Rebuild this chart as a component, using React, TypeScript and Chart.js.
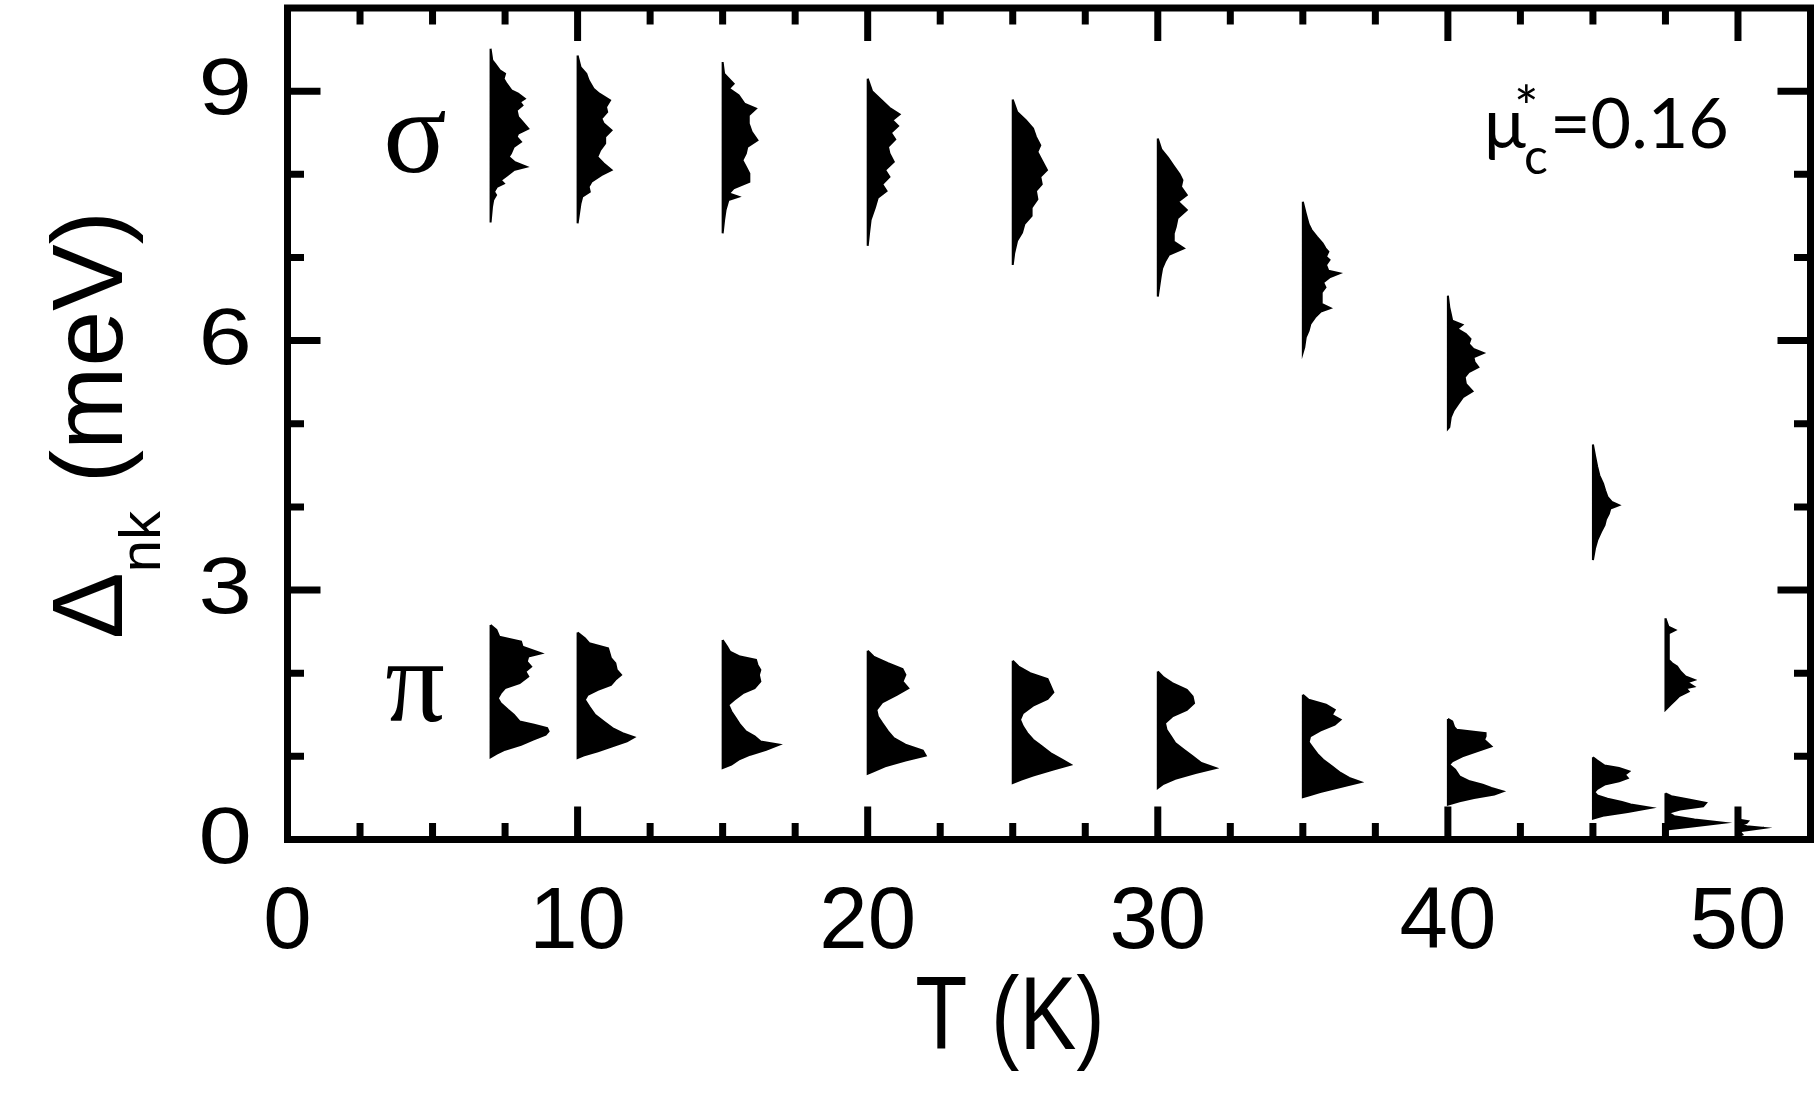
import React, { useEffect, useRef } from 'react';
import { Chart, registerables } from 'chart.js';

Chart.register(...registerables);

// ---- axis ranges & ticks ----
const xMin = 0;
const xMax = 52.5;
const yMin = 0;
const yMax = 10;
const xTickLabels = [0, 10, 20, 30, 40, 50];
const yTickLabels = [0, 3, 6, 9];
const xTickMarks = [2.5, 5, 7.5, 10, 12.5, 15, 17.5, 20, 22.5, 25, 27.5, 30, 32.5, 35, 37.5, 40, 42.5, 45, 47.5, 50];
const yTickMarks = [1, 2, 3, 4, 5, 6, 7, 8, 9];

// ---- gap distributions: [gap (meV), histogram width (K)] from top to bottom ----
const sigma07 = [[9.51,0],[9.37,0.06],[9.33,0.15],[9.25,0.32],[9.21,0.5],[9.15,0.45],[9.09,0.55],[9.01,0.72],[8.97,0.95],[8.91,1.18],[8.87,1.01],[8.83,1.10],[8.77,0.9],[8.69,0.95],[8.65,1.05],[8.55,1.30],[8.49,0.95],[8.45,0.9],[8.39,1.05],[8.33,0.8],[8.25,0.7],[8.21,0.62],[8.15,0.82],[8.09,1.24],[8.05,0.8],[7.99,0.58],[7.93,0.35],[7.89,0.46],[7.85,0.22],[7.79,0.12],[7.75,0.19],[7.69,0.09],[7.61,0.05],[7.42,0]];
const sigma10 = [[9.43,0],[9.29,0.1],[9.21,0.3],[9.13,0.38],[9.03,0.55],[8.97,0.75],[8.89,1.12],[8.81,0.98],[8.75,1.02],[8.67,0.82],[8.61,0.9],[8.53,1.17],[8.45,0.95],[8.37,0.95],[8.29,0.78],[8.21,0.68],[8.13,0.9],[8.05,1.17],[7.99,0.82],[7.91,0.48],[7.85,0.38],[7.79,0.42],[7.73,0.16],[7.65,0.1],[7.53,0.05],[7.41,0]];
const sigma15 = [[9.35,0],[9.21,0.05],[9.09,0.38],[9.03,0.22],[8.95,0.55],[8.85,0.75],[8.79,1.15],[8.71,0.9],[8.61,0.9],[8.51,1.0],[8.41,1.2],[8.33,0.85],[8.25,0.8],[8.17,0.68],[8.09,0.8],[8.01,0.92],[7.91,0.92],[7.83,0.38],[7.77,0.22],[7.73,0.55],[7.69,0.2],[7.57,0.1],[7.45,0.05],[7.29,0]];
const sigma20 = [[9.15,0],[9.0,0.15],[8.9,0.45],[8.8,0.75],[8.72,1.1],[8.65,0.85],[8.58,1.05],[8.5,0.8],[8.42,0.95],[8.33,0.7],[8.25,0.75],[8.15,0.9],[8.05,0.6],[7.97,0.75],[7.88,0.5],[7.8,0.65],[7.72,0.35],[7.6,0.25],[7.45,0.1],[7.3,0.05],[7.14,0]];
const sigma25 = [[8.90,0],[8.75,0.15],[8.65,0.45],[8.55,0.7],[8.45,0.8],[8.35,0.95],[8.27,0.85],[8.17,1.0],[8.05,1.18],[7.97,0.95],[7.88,1.0],[7.8,0.8],[7.7,0.85],[7.6,0.65],[7.5,0.65],[7.4,0.4],[7.3,0.32],[7.2,0.15],[7.05,0.05],[6.91,0]];
const sigma30 = [[8.43,0],[8.3,0.12],[8.2,0.35],[8.1,0.55],[8.0,0.75],[7.93,0.85],[7.85,0.8],[7.75,1.0],[7.67,0.7],[7.57,1.0],[7.47,0.68],[7.37,0.62],[7.29,0.55],[7.19,0.55],[7.11,0.9],[7.03,0.38],[6.95,0.25],[6.87,0.15],[6.77,0.1],[6.65,0.05],[6.53,0]];
const sigma35 = [[7.67,0],[7.53,0.1],[7.40,0.2],[7.33,0.3],[7.25,0.48],[7.17,0.68],[7.11,0.78],[7.07,0.88],[7.01,0.8],[6.97,0.92],[6.91,0.8],[6.84,0.88],[6.81,1.27],[6.76,0.92],[6.70,0.7],[6.64,0.78],[6.58,0.65],[6.50,0.65],[6.44,0.65],[6.39,0.95],[6.35,0.62],[6.28,0.42],[6.20,0.26],[6.12,0.2],[6.04,0.1],[5.92,0.05],[5.86,0]];
const sigma40 = [[6.54,0],[6.40,0.05],[6.32,0.1],[6.24,0.15],[6.19,0.5],[6.14,0.32],[6.08,0.62],[6.02,0.78],[5.96,0.72],[5.90,0.88],[5.85,1.23],[5.80,0.88],[5.74,0.92],[5.68,1.05],[5.62,0.72],[5.56,0.58],[5.48,0.62],[5.39,0.85],[5.32,0.52],[5.24,0.36],[5.16,0.2],[5.08,0.1],[4.96,0.05],[4.94,0]];
const sigma45 = [[4.75,0],[4.6,0.08],[4.48,0.15],[4.38,0.22],[4.28,0.35],[4.2,0.42],[4.12,0.5],[4.06,0.65],[4.02,0.9],[3.98,0.6],[3.92,0.55],[3.85,0.45],[3.78,0.4],[3.7,0.28],[3.6,0.15],[3.5,0.07],[3.36,0]];
const sigma47 = [[2.66,0],[2.56,0.1],[2.52,0.34],[2.48,0.11],[2.32,0.11],[2.16,0.12],[2.12,0.23],[2.08,0.4],[2.02,0.52],[1.96,0.69],[1.92,1.0],[1.89,0.75],[1.84,0.98],[1.82,0.7],[1.78,0.8],[1.72,0.46],[1.68,0.35],[1.62,0.17],[1.56,0]];
const gap50 = [[0.24,0],[0.22,0.35],[0.2,0.3],[0.18,0.1],[0.16,0.3],[0.14,0.9],[0.12,0.5],[0.1,0.05],[0.06,0.15],[0.04,0]];

const pi07 = [[2.58,0],[2.52,0.2],[2.44,0.3],[2.38,1.05],[2.32,1.1],[2.24,1.75],[2.20,1.3],[2.14,1.25],[2.08,1.4],[2.02,1.2],[1.96,1.3],[1.88,1.0],[1.82,0.5],[1.76,0.35],[1.70,0.25],[1.64,0.35],[1.56,0.6],[1.50,0.8],[1.42,1.0],[1.38,1.5],[1.34,1.95],[1.30,2.0],[1.26,1.9],[1.20,1.45],[1.14,1.05],[1.08,0.5],[1.03,0.2],[0.99,0]];
const pi10 = [[2.49,0],[2.42,0.25],[2.36,0.4],[2.30,1.05],[2.24,1.1],[2.18,1.15],[2.12,1.3],[2.04,1.35],[1.98,1.5],[1.92,1.3],[1.86,1.15],[1.80,0.7],[1.74,0.35],[1.68,0.25],[1.60,0.4],[1.50,0.6],[1.42,0.9],[1.34,1.2],[1.28,1.55],[1.23,1.95],[1.18,1.7],[1.12,1.2],[1.06,0.7],[1.01,0.2],[0.98,0]];
const pi15 = [[2.40,0],[2.32,0.15],[2.26,0.25],[2.20,0.6],[2.16,1.15],[2.10,1.2],[2.04,1.3],[1.98,1.25],[1.90,1.3],[1.82,1.1],[1.76,0.7],[1.68,0.4],[1.62,0.2],[1.54,0.3],[1.46,0.45],[1.38,0.6],[1.30,0.8],[1.24,1.1],[1.18,1.3],[1.14,1.95],[1.08,1.5],[1.02,0.95],[0.96,0.55],[0.90,0.3],[0.86,0]];
const pi20 = [[2.27,0],[2.2,0.2],[2.12,0.7],[2.05,1.2],[1.98,1.3],[1.9,1.2],[1.82,1.4],[1.74,1.0],[1.65,0.5],[1.56,0.3],[1.48,0.35],[1.40,0.5],[1.30,0.7],[1.22,0.9],[1.14,1.3],[1.07,1.9],[1.01,2.0],[0.95,1.3],[0.88,0.6],[0.82,0.2],[0.79,0]];
const pi25 = [[2.15,0],[2.08,0.2],[2.0,0.6],[1.93,1.2],[1.85,1.3],[1.77,1.4],[1.69,1.2],[1.61,0.7],[1.52,0.35],[1.44,0.25],[1.36,0.35],[1.28,0.5],[1.2,0.7],[1.12,1.0],[1.04,1.3],[0.96,1.7],[0.9,2.0],[0.84,1.4],[0.77,0.7],[0.72,0.3],[0.68,0]];
const pi30 = [[2.02,0],[1.95,0.2],[1.88,0.5],[1.8,1.0],[1.72,1.2],[1.64,1.25],[1.56,1.0],[1.48,0.5],[1.4,0.25],[1.32,0.3],[1.24,0.45],[1.16,0.6],[1.08,0.9],[1.0,1.2],[0.92,1.5],[0.86,2.0],[0.8,1.3],[0.73,0.6],[0.67,0.2],[0.62,0]];
const pi35 = [[1.74,0],[1.68,0.2],[1.62,0.8],[1.56,1.1],[1.5,1.0],[1.44,1.3],[1.38,1.1],[1.31,0.6],[1.24,0.25],[1.17,0.2],[1.10,0.35],[1.03,0.5],[0.96,0.7],[0.88,1.0],[0.80,1.3],[0.74,1.6],[0.69,2.0],[0.63,1.3],[0.57,0.6],[0.53,0.2],[0.51,0]];
const pi40 = [[1.45,0],[1.42,0.15],[1.35,0.22],[1.32,0.3],[1.28,1.3],[1.24,1.3],[1.20,1.25],[1.12,1.5],[1.06,1.0],[1.00,0.5],[0.94,0.15],[0.90,0.05],[0.84,0.25],[0.76,0.4],[0.70,0.75],[0.66,1.2],[0.62,1.5],[0.58,1.9],[0.54,1.6],[0.50,0.9],[0.46,0.4],[0.42,0]];
const pi45 = [[0.99,0],[0.95,0.15],[0.89,0.4],[0.86,0.9],[0.82,1.25],[0.78,1.1],[0.74,1.2],[0.70,0.9],[0.66,0.4],[0.61,0.15],[0.57,0.05],[0.53,0.15],[0.49,0.5],[0.45,1.0],[0.42,1.3],[0.38,2.0],[0.33,1.2],[0.29,0.4],[0.25,0]];
const pi47 = [[0.555,0],[0.52,0.2],[0.48,0.8],[0.44,1.4],[0.40,1.3],[0.36,0.5],[0.32,0.1],[0.28,0.3],[0.24,1.0],[0.20,2.0],[0.16,1.0],[0.12,0]];

const histTemps = [7, 10, 15, 20, 25, 30, 35, 40, 45, 47.5, 50, 7, 10, 15, 20, 25, 30, 35, 40, 45, 47.5];
const histProfiles = [sigma07, sigma10, sigma15, sigma20, sigma25, sigma30, sigma35, sigma40, sigma45, sigma47, gap50,
  pi07, pi10, pi15, pi20, pi25, pi30, pi35, pi40, pi45, pi47];

const bandLabels = ['σ', 'π'];
const bandLabelPos = [[4.4, 8.4], [4.4, 1.8]];

const FRAME_W = 7;
const SANS = '"Liberation Sans", Arial, sans-serif';
const SERIF = '"Liberation Serif", "Times New Roman", serif';
const MUFONT = 'Lato, "Open Sans", sans-serif';

function drawStretched(ctx: CanvasRenderingContext2D, text: string, x: number, y: number, font: string, align: CanvasTextAlign, baseline: CanvasTextBaseline, sx = 1, sy = 1) {
  ctx.save();
  ctx.translate(x, y);
  ctx.scale(sx, sy);
  ctx.font = font;
  ctx.textAlign = align;
  ctx.textBaseline = baseline;
  ctx.fillText(text, 0, 0);
  ctx.restore();
}

const overlay = {
  id: 'overlay',
  afterDraw(chart: any) {
    const { ctx, chartArea: a, scales } = chart;
    const xs = scales.x;
    const ys = scales.y;
    ctx.save();
    ctx.fillStyle = '#000';
    ctx.strokeStyle = '#000';
    // frame
    ctx.lineWidth = FRAME_W;
    ctx.strokeRect(a.left, a.top, a.right - a.left, a.bottom - a.top);
    // ticks
    ctx.lineCap = 'butt';
    ctx.lineWidth = 7;
    for (const v of xTickMarks) {
      const px = xs.getPixelForValue(v);
      const major = v % 10 === 0;
      const L = major ? 33 : 16.5;
      ctx.beginPath();
      ctx.moveTo(px, a.bottom); ctx.lineTo(px, a.bottom - L);
      ctx.moveTo(px, a.top); ctx.lineTo(px, a.top + L);
      ctx.stroke();
    }
    for (const v of yTickMarks) {
      const py = ys.getPixelForValue(v);
      const major = v % 3 === 0;
      const L = major ? 33 : 16.5;
      ctx.beginPath();
      ctx.moveTo(a.left, py); ctx.lineTo(a.left + L, py);
      ctx.moveTo(a.right, py); ctx.lineTo(a.right - L, py);
      ctx.stroke();
    }
    // tick labels
    for (const v of yTickLabels) {
      const py = ys.getPixelForValue(v);
      drawStretched(ctx, String(v), 252, py + 1, `80px ${SANS}`, 'right', 'middle', 1.2, 1);
    }
    for (const v of xTickLabels) {
      const px = xs.getPixelForValue(v);
      drawStretched(ctx, String(v), px, 924, `87px ${SANS}`, 'center', 'middle', 1, 1);
    }
    // x title
    drawStretched(ctx, 'T (K)', 1010, 1020, `104px ${SANS}`, 'center', 'middle', 0.82, 1);
    // y title, rotated
    ctx.save();
    ctx.translate(122, 425);
    ctx.rotate(-Math.PI / 2);
    ctx.textBaseline = 'alphabetic';
    ctx.textAlign = 'left';
    const fBig = `100px ${SANS}`;
    const fSub = `58px ${SANS}`;
    ctx.font = fBig; const wD = ctx.measureText('Δ').width;
    ctx.font = fSub; const wS = ctx.measureText('nk').width;
    ctx.font = fBig; const wM = ctx.measureText(' (meV)').width;
    let cx = -(wD + wS + wM) / 2;
    ctx.font = fBig; ctx.fillText('Δ', cx, 0); cx += wD;
    ctx.font = fSub; ctx.fillText('nk', cx, 38); cx += wS;
    ctx.font = fBig; ctx.fillText(' (meV)', cx, 0);
    ctx.restore();
    // band labels
    bandLabels.forEach((t, i) => {
      const [bx, by] = bandLabelPos[i];
      drawStretched(ctx, t, xs.getPixelForValue(bx), ys.getPixelForValue(by), `118px ${SERIF}`, 'center', 'middle');
    });
    // mu label
    ctx.textAlign = 'left';
    ctx.textBaseline = 'alphabetic';
    ctx.font = `70px ${MUFONT}`; ctx.fillText('μ', 1484, 148);
    ctx.font = `50px ${MUFONT}`; ctx.fillText('c', 1524, 174);
    ctx.font = `58px ${MUFONT}`; ctx.fillText('*', 1514, 128);
    ctx.font = `70px ${MUFONT}`; ctx.fillText('=0.16', 1550, 148);
    ctx.restore();
  },
};

export default function App() {
  const ref = useRef<HTMLCanvasElement>(null);
  useEffect(() => {
    const datasets = histProfiles.map((prof, i) => {
      const T = histTemps[i];
      const top = prof[0][0];
      const bottom = prof[prof.length - 1][0];
      const data = [
        { x: T, y: top },
        ...prof.map(([g, w]) => ({ x: T + w, y: g })),
        { x: T, y: bottom },
        { x: T, y: top },
      ];
      return {
        data,
        showLine: true,
        borderColor: '#000',
        backgroundColor: '#000',
        borderWidth: 2,
        pointRadius: 0,
        tension: 0,
        fill: 'shape',
      };
    });
    const chart = new Chart(ref.current as HTMLCanvasElement, {
      type: 'scatter',
      data: { datasets } as any,
      options: {
        animation: false,
        responsive: false,
        devicePixelRatio: 1,
        layout: { padding: { top: 8, right: 5.5, left: 0, bottom: 0 } },
        plugins: { legend: { display: false }, tooltip: { enabled: false } },
        scales: {
          x: {
            type: 'linear', min: xMin, max: xMax,
            grid: { display: false }, border: { display: false },
            ticks: { display: false },
            afterFit: (s: any) => { s.height = 1099 - 839.5; },
          },
          y: {
            type: 'linear', min: yMin, max: yMax,
            grid: { display: false }, border: { display: false },
            ticks: { display: false },
            afterFit: (s: any) => { s.width = 287.5; },
          },
        },
      } as any,
      plugins: [overlay],
    });
    return () => chart.destroy();
  }, []);
  return (
    <div style={{ position: 'fixed', left: 0, top: 0, width: 1816, height: 1099, background: '#fff' }}>
      <canvas ref={ref} width={1816} height={1099} style={{ display: 'block' }} />
    </div>
  );
}
